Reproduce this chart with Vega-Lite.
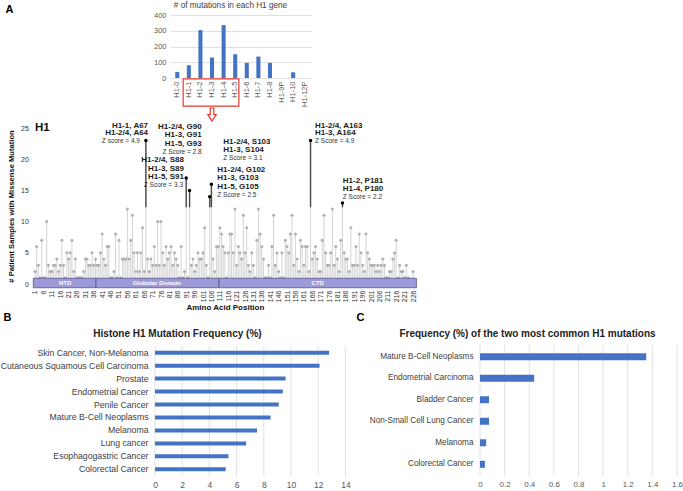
{
 "$schema": "https://vega.github.io/schema/vega-lite/v6.json",
 "width": 683, "height": 491,
 "autosize": {"type": "fit", "contains": "padding"},
 "padding": 0,
 "background": "white",
 "config": {"view": {"stroke": null}, "font": "Liberation Sans", "axis": {"labelFont": "Liberation Sans", "titleFont": "Liberation Sans"}, "text": {"font": "Liberation Sans"}},
 "datasets": {
  "genes": [{"gene":"H1-0","count":38},{"gene":"H1-1","count":81},{"gene":"H1-2","count":304},{"gene":"H1-3","count":130},{"gene":"H1-4","count":336},{"gene":"H1-5","count":151},{"gene":"H1-6","count":96},{"gene":"H1-7","count":136},{"gene":"H1-8","count":96},{"gene":"H1-9P","count":0},{"gene":"H1-10","count":36},{"gene":"H1-12P","count":0}],
  "freqB": [{"cancer":"Skin Cancer, Non-Melanoma","pct":12.8},{"cancer":"Cutaneous Squamous Cell Carcinoma","pct":12.1},{"cancer":"Prostate","pct":9.6},{"cancer":"Endometrial Cancer","pct":9.4},{"cancer":"Penile Cancer","pct":9.1},{"cancer":"Mature B-Cell Neoplasms","pct":8.5},{"cancer":"Melanoma","pct":7.5},{"cancer":"Lung cancer","pct":6.7},{"cancer":"Esophagogastric Cancer","pct":5.4},{"cancer":"Colorectal Cancer","pct":5.2}],
  "freqC": [{"cancer":"Mature B-Cell Neoplasms","pct":1.35},{"cancer":"Endometrial Carcinoma","pct":0.44},{"cancer":"Bladder Cancer","pct":0.073},{"cancer":"Non-Small Cell Lung Cancer","pct":0.073},{"cancer":"Melanoma","pct":0.05},{"cancer":"Colorectal Cancer","pct":0.04}],
  "gridB": [{"v":0},{"v":2},{"v":4},{"v":6},{"v":8},{"v":10},{"v":12},{"v":14}],
  "gridC": [{"v":0},{"v":0.2},{"v":0.4},{"v":0.6},{"v":0.8},{"v":1},{"v":1.2},{"v":1.4},{"v":1.6}],
  "domains": [{"name":"NTD","start":0,"end":37.3,"mid":18.9},{"name":"Globular Domain","start":37.3,"end":110.5,"mid":73.5},{"name":"CTD","start":110.5,"end":228,"mid":169.3}],
  "notesRB": [{"t":"H1-1, A67","pos":68.3,"n":25.4},{"t":"H1-2/4, A64","pos":68.3,"n":24.15},{"t":"H1-2/4, G90","pos":100.2,"n":25.1},{"t":"H1-3, G91","pos":100.2,"n":23.8},{"t":"H1-5, G93","pos":100.2,"n":22.4},{"t":"H1-2/4, S88","pos":89.7,"n":19.9},{"t":"H1-3, S89","pos":89.7,"n":18.5},{"t":"H1-5, S91","pos":89.7,"n":17.2}],
  "notesRZ": [{"t":"Z score = 4.9","pos":63.5,"n":22.9},{"t":"Z Score = 2.8","pos":100.2,"n":21.1},{"t":"Z Score = 3.3","pos":89.1,"n":15.9}],
  "notesLB": [{"t":"H1-2/4, S103","pos":113.1,"n":22.8},{"t":"H1-3, S104","pos":113.1,"n":21.5},{"t":"H1-2/4, G102","pos":109.5,"n":18.3},{"t":"H1-3, G103","pos":109.5,"n":16.95},{"t":"H1-5, G105","pos":109.5,"n":15.6},{"t":"H1-2/4, A163","pos":167.7,"n":25.4},{"t":"H1-3, A164","pos":167.7,"n":24.15},{"t":"H1-2, P181","pos":184.2,"n":16.55},{"t":"H1-4, P180","pos":184.2,"n":15.3}],
  "notesLZ": [{"t":"Z Score = 3.1","pos":113.1,"n":20.2},{"t":"Z Score = 2.5","pos":109.5,"n":14.3},{"t":"Z Score = 4.9","pos":167.7,"n":22.9},{"t":"Z Score = 2.2","pos":184.2,"n":14.0}],
  "lolli": [{"pos":1,"n":2},{"pos":2,"n":6},{"pos":3,"n":3},{"pos":4,"n":1},{"pos":5,"n":7},{"pos":6,"n":1},{"pos":7,"n":1},{"pos":8,"n":10},{"pos":9,"n":3},{"pos":10,"n":2},{"pos":11,"n":2},{"pos":12,"n":3},{"pos":13,"n":3},{"pos":14,"n":4},{"pos":15,"n":2},{"pos":16,"n":3},{"pos":17,"n":7},{"pos":18,"n":3},{"pos":19,"n":1},{"pos":20,"n":5},{"pos":21,"n":4},{"pos":22,"n":5},{"pos":23,"n":7},{"pos":24,"n":2},{"pos":25,"n":4},{"pos":26,"n":1},{"pos":27,"n":1},{"pos":28,"n":1},{"pos":29,"n":1},{"pos":30,"n":2},{"pos":31,"n":4},{"pos":32,"n":4},{"pos":33,"n":3},{"pos":34,"n":3},{"pos":35,"n":5},{"pos":36,"n":3},{"pos":37,"n":4},{"pos":38,"n":3},{"pos":39,"n":3},{"pos":40,"n":5},{"pos":41,"n":8},{"pos":42,"n":4},{"pos":43,"n":3},{"pos":44,"n":6},{"pos":45,"n":6},{"pos":46,"n":1},{"pos":47,"n":1},{"pos":48,"n":2},{"pos":49,"n":8},{"pos":50,"n":1},{"pos":51,"n":7},{"pos":52,"n":1},{"pos":53,"n":4},{"pos":54,"n":4},{"pos":55,"n":4},{"pos":56,"n":12},{"pos":57,"n":4},{"pos":58,"n":7},{"pos":59,"n":11},{"pos":60,"n":5},{"pos":61,"n":2},{"pos":62,"n":5},{"pos":63,"n":2},{"pos":64,"n":5},{"pos":65,"n":9},{"pos":66,"n":2},{"pos":67,"n":23},{"pos":68,"n":4},{"pos":69,"n":2},{"pos":70,"n":4},{"pos":71,"n":3},{"pos":72,"n":6},{"pos":73,"n":3},{"pos":74,"n":10},{"pos":75,"n":3},{"pos":76,"n":10},{"pos":77,"n":5},{"pos":78,"n":3},{"pos":79,"n":6},{"pos":80,"n":4},{"pos":81,"n":5},{"pos":82,"n":6},{"pos":83,"n":3},{"pos":84,"n":5},{"pos":85,"n":4},{"pos":86,"n":3},{"pos":87,"n":1},{"pos":88,"n":6},{"pos":89,"n":1},{"pos":90,"n":2},{"pos":91,"n":17},{"pos":92,"n":1},{"pos":93,"n":15},{"pos":94,"n":3},{"pos":95,"n":4},{"pos":96,"n":2},{"pos":97,"n":3},{"pos":98,"n":5},{"pos":99,"n":4},{"pos":100,"n":4},{"pos":101,"n":5},{"pos":102,"n":9},{"pos":103,"n":3},{"pos":104,"n":1},{"pos":105,"n":14},{"pos":106,"n":16},{"pos":107,"n":4},{"pos":108,"n":2},{"pos":109,"n":6},{"pos":110,"n":6},{"pos":111,"n":9},{"pos":112,"n":8},{"pos":113,"n":6},{"pos":114,"n":5},{"pos":115,"n":1},{"pos":116,"n":5},{"pos":117,"n":8},{"pos":118,"n":8},{"pos":119,"n":5},{"pos":120,"n":12},{"pos":121,"n":3},{"pos":122,"n":6},{"pos":123,"n":5},{"pos":124,"n":4},{"pos":125,"n":11},{"pos":126,"n":5},{"pos":127,"n":9},{"pos":128,"n":3},{"pos":129,"n":2},{"pos":130,"n":5},{"pos":131,"n":3},{"pos":132,"n":1},{"pos":133,"n":7},{"pos":134,"n":12},{"pos":135,"n":8},{"pos":136,"n":6},{"pos":137,"n":4},{"pos":138,"n":1},{"pos":139,"n":1},{"pos":140,"n":3},{"pos":141,"n":1},{"pos":142,"n":6},{"pos":143,"n":11},{"pos":144,"n":3},{"pos":145,"n":5},{"pos":146,"n":2},{"pos":147,"n":1},{"pos":148,"n":5},{"pos":149,"n":1},{"pos":150,"n":7},{"pos":151,"n":6},{"pos":152,"n":5},{"pos":153,"n":8},{"pos":154,"n":11},{"pos":155,"n":3},{"pos":156,"n":8},{"pos":157,"n":4},{"pos":158,"n":2},{"pos":159,"n":7},{"pos":160,"n":6},{"pos":161,"n":3},{"pos":162,"n":6},{"pos":163,"n":6},{"pos":164,"n":2},{"pos":165,"n":23},{"pos":166,"n":4},{"pos":167,"n":5},{"pos":168,"n":6},{"pos":169,"n":4},{"pos":170,"n":2},{"pos":171,"n":2},{"pos":172,"n":7},{"pos":173,"n":11},{"pos":174,"n":5},{"pos":175,"n":3},{"pos":176,"n":3},{"pos":177,"n":5},{"pos":178,"n":12},{"pos":179,"n":3},{"pos":180,"n":6},{"pos":181,"n":4},{"pos":182,"n":2},{"pos":183,"n":7},{"pos":184,"n":13},{"pos":185,"n":5},{"pos":186,"n":4},{"pos":187,"n":4},{"pos":188,"n":2},{"pos":189,"n":9},{"pos":190,"n":3},{"pos":191,"n":3},{"pos":192,"n":6},{"pos":193,"n":3},{"pos":194,"n":8},{"pos":195,"n":5},{"pos":196,"n":3},{"pos":197,"n":2},{"pos":198,"n":8},{"pos":199,"n":5},{"pos":200,"n":4},{"pos":201,"n":3},{"pos":202,"n":3},{"pos":203,"n":3},{"pos":204,"n":2},{"pos":205,"n":3},{"pos":206,"n":2},{"pos":207,"n":3},{"pos":208,"n":4},{"pos":209,"n":3},{"pos":210,"n":1},{"pos":211,"n":1},{"pos":212,"n":2},{"pos":213,"n":2},{"pos":214,"n":4},{"pos":215,"n":5},{"pos":216,"n":7},{"pos":217,"n":1},{"pos":218,"n":3},{"pos":219,"n":2},{"pos":220,"n":2},{"pos":221,"n":1},{"pos":222,"n":3},{"pos":223,"n":1},{"pos":226,"n":2}]
 },
 "resolve": {"scale": {"x": "independent", "y": "independent"}, "axis": {"x": "independent", "y": "independent"}},
 "layer": [
  {
   "resolve": {"axis": {"x": "independent", "y": "independent"}},
   "layer": [
    {"data": {"name": "genes"},
     "mark": {"type": "bar", "color": "#4472C4"},
     "encoding": {
      "x": {"field": "gene", "type": "nominal", "sort": null,
        "scale": {"range": [170, 312], "paddingInner": 0.65, "paddingOuter": 0.45},
        "axis": {"orient": "bottom", "offset": -413, "labelAngle": -90, "labelFontSize": 7.5, "labelColor": "#595959", "labelPadding": 3, "ticks": false, "domain": false, "title": "# of  mutations in each H1 gene", "titleFontSize": 8.2, "titleFontWeight": "normal", "titleColor": "#404040", "titleX": 230, "titleY": -73, "titleBaseline": "middle"}},
      "y": {"field": "count", "type": "quantitative",
        "scale": {"domain": [0, 400], "range": [78, 15], "nice": false},
        "axis": {"orient": "left", "offset": -170, "values": [0, 100, 200, 300, 400], "grid": true, "gridColor": "#d9d9d9", "gridWidth": 0.8, "domain": false, "ticks": false, "labelFontSize": 7.5, "labelColor": "#595959", "labelPadding": 4, "title": "A", "titleAngle": 0, "titleX": -165, "titleY": 9, "titleAlign": "left", "titleBaseline": "middle", "titleFontSize": 11, "titleFontWeight": "bold", "titleColor": "#000000"}}
     }},
    {"data": {"values": [{}]},
     "mark": {"type": "rect", "filled": false, "stroke": "#E8392E", "strokeWidth": 1.2},
     "encoding": {"x": {"datum": "H1-1", "bandPosition": -0.9, "axis": null}, "x2": {"datum": "H1-5", "bandPosition": 1.4}, "y": {"datum": -6, "axis": null}, "y2": {"datum": -178}}},
    {"data": {"values": [{}]},
     "mark": {"type": "point", "shape": "M-0.27,-1L0.27,-1L0.27,0L0.64,0L0,1L-0.64,0L-0.27,0Z", "filled": true, "fill": "white", "stroke": "#E8392E", "strokeWidth": 1.2, "size": 170, "opacity": 1},
     "encoding": {"x": {"datum": "H1-3", "axis": null}, "y": {"datum": -232, "axis": null}}}
   ]
  },
  {
   "resolve": {"axis": {"x": "independent", "y": "independent"}},
   "layer": [
    {"data": {"name": "lolli"},
     "mark": {"type": "rule", "color": "#d4d4d4", "strokeWidth": 1},
     "encoding": {
      "x": {"field": "pos", "type": "quantitative",
        "scale": {"domain": [0, 228], "range": [33.3, 416.4], "nice": false, "zero": false},
        "axis": {"orient": "bottom", "offset": -203, "values": [1,6,11,16,21,26,31,36,41,46,51,56,61,66,71,76,81,86,91,96,101,106,111,116,121,126,131,136,141,146,151,156,161,166,171,176,181,186,191,196,201,206,211,216,221,226], "labelAngle": -90, "labelAlign": "right", "labelBaseline": "middle", "labelFontSize": 7, "labelColor": "#333333", "labelPadding": 2, "labelOverlap": false, "labelFlush": false, "ticks": false, "domain": false, "grid": false, "title": "Amino Acid Position", "titleFontSize": 8, "titleFontWeight": "bold", "titlePadding": 2, "titleColor": "#111111"}},
      "y": {"field": "n", "type": "quantitative",
        "scale": {"domain": [0, 25], "range": [284, 128], "nice": false},
        "axis": {"orient": "left", "offset": -33.3, "values": [0, 5, 10, 15, 20, 25], "grid": false, "domain": false, "ticks": false, "labelFontSize": 7, "labelColor": "#333333", "labelPadding": 5, "title": "# Patient Samples with Missense Mutation", "titleFontSize": 7.6, "titleFontWeight": "bold", "titlePadding": 5, "titleColor": "#111111"}},
      "y2": {"datum": 0}
     }},
    {"data": {"name": "lolli"},
     "mark": {"type": "circle", "color": "#b0b0b0", "size": 9, "opacity": 1},
     "encoding": {"x": {"field": "pos", "type": "quantitative", "axis": null}, "y": {"field": "n", "type": "quantitative", "axis": null}}},
    {"data": {"name": "lolli"}, "transform": [{"filter": "datum.n >= 13"}],
     "mark": {"type": "rule", "color": "#4a4a4a", "strokeWidth": 1.4},
     "encoding": {"x": {"field": "pos", "type": "quantitative", "axis": null}, "y": {"field": "n", "type": "quantitative", "axis": null}, "y2": {"datum": 12.3}}},
    {"data": {"name": "lolli"}, "transform": [{"filter": "datum.n >= 13"}],
     "mark": {"type": "circle", "color": "#000000", "size": 12, "opacity": 1},
     "encoding": {"x": {"field": "pos", "type": "quantitative", "axis": null}, "y": {"field": "n", "type": "quantitative", "axis": null}}},
    {"data": {"name": "domains"},
     "mark": {"type": "rect", "fill": "#9c9ad8", "stroke": "#55558a", "strokeWidth": 0.8},
     "encoding": {"x": {"field": "start", "type": "quantitative", "axis": null}, "x2": {"field": "end"}, "y": {"datum": 0.92, "axis": null}, "y2": {"datum": -0.6}}},
    {"data": {"name": "domains"},
     "mark": {"type": "text", "color": "white", "fontSize": 6, "fontWeight": "bold", "baseline": "middle", "align": "center"},
     "encoding": {"x": {"field": "mid", "type": "quantitative", "axis": null}, "y": {"datum": 0.15, "axis": null}, "text": {"field": "name"}}},
    {"data": {"name": "notesRB"},
     "mark": {"type": "text", "align": "right", "baseline": "middle", "fontSize": 8, "fontWeight": "bold", "color": "#1a1a1a"},
     "encoding": {"x": {"field": "pos", "type": "quantitative", "axis": null}, "y": {"field": "n", "type": "quantitative", "axis": null}, "text": {"field": "t"}}},
    {"data": {"name": "notesRZ"},
     "mark": {"type": "text", "align": "right", "baseline": "middle", "fontSize": 6.5, "color": "#333333"},
     "encoding": {"x": {"field": "pos", "type": "quantitative", "axis": null}, "y": {"field": "n", "type": "quantitative", "axis": null}, "text": {"field": "t"}}},
    {"data": {"name": "notesLB"},
     "mark": {"type": "text", "align": "left", "baseline": "middle", "fontSize": 8, "fontWeight": "bold", "color": "#1a1a1a"},
     "encoding": {"x": {"field": "pos", "type": "quantitative", "axis": null}, "y": {"field": "n", "type": "quantitative", "axis": null}, "text": {"field": "t"}}},
    {"data": {"name": "notesLZ"},
     "mark": {"type": "text", "align": "left", "baseline": "middle", "fontSize": 6.5, "color": "#333333"},
     "encoding": {"x": {"field": "pos", "type": "quantitative", "axis": null}, "y": {"field": "n", "type": "quantitative", "axis": null}, "text": {"field": "t"}}},
    {"data": {"values": [{"label": "H1", "pos": 1, "n": 25}]},
     "mark": {"type": "text", "align": "left", "baseline": "middle", "fontSize": 11.5, "fontWeight": "bold", "color": "#111111"},
     "encoding": {"x": {"field": "pos", "type": "quantitative", "axis": null}, "y": {"field": "n", "type": "quantitative", "axis": null}, "text": {"field": "label"}}}
   ]
  },
  {
   "resolve": {"scale": {"y": "independent"}, "axis": {"x": "independent", "y": "independent"}},
   "layer": [
    {"data": {"name": "gridB"},
     "mark": {"type": "rule", "color": "#d9d9d9", "strokeWidth": 0.8},
     "encoding": {
      "x": {"field": "v", "type": "quantitative", "scale": {"domain": [0, 14], "range": [155, 345.4], "nice": false}, "axis": null},
      "y": {"datum": 0, "type": "quantitative", "scale": {"domain": [0, 1], "range": [346, 476], "nice": false}, "axis": null},
      "y2": {"datum": 1}}},
    {"data": {"name": "freqB"},
     "mark": {"type": "bar", "color": "#4472C4"},
     "encoding": {
      "y": {"field": "cancer", "type": "nominal", "sort": null,
        "scale": {"range": [346, 476], "paddingInner": 0.69, "paddingOuter": 0.36},
        "axis": {"orient": "left", "offset": -155, "ticks": false, "domain": false, "labelFontSize": 8.7, "labelColor": "#404040", "labelPadding": 7, "labelLimit": 300, "title": "B", "titleAngle": 0, "titleX": -152, "titleY": 317, "titleAlign": "left", "titleBaseline": "middle", "titleFontSize": 11, "titleFontWeight": "bold", "titleColor": "#000000"}},
      "x": {"field": "pct", "type": "quantitative",
        "scale": {"domain": [0, 14], "range": [155, 345.4], "nice": false},
        "axis": {"orient": "bottom", "offset": -15, "values": [0, 2, 4, 6, 8, 10, 12, 14], "grid": false, "ticks": false, "domain": false, "labelFlush": false, "labelFontSize": 8.5, "labelColor": "#595959", "labelPadding": 4, "title": "Histone H1 Mutation Frequency (%)", "titleX": 177, "titleY": -143, "titleBaseline": "middle", "titleFontSize": 10, "titleFontWeight": "bold", "titleColor": "#222222"}}
     }}
   ]
  },
  {
   "resolve": {"scale": {"y": "independent"}, "axis": {"x": "independent", "y": "independent"}},
   "layer": [
    {"data": {"name": "gridC"},
     "mark": {"type": "rule", "color": "#d9d9d9", "strokeWidth": 0.8},
     "encoding": {
      "x": {"field": "v", "type": "quantitative", "scale": {"domain": [0, 1.6], "range": [480, 677], "nice": false}, "axis": null},
      "y": {"datum": 0, "type": "quantitative", "scale": {"domain": [0, 1], "range": [345, 476], "nice": false}, "axis": null},
      "y2": {"datum": 1}}},
    {"data": {"name": "freqC"},
     "mark": {"type": "bar", "color": "#4472C4"},
     "encoding": {
      "y": {"field": "cancer", "type": "nominal", "sort": null,
        "scale": {"range": [345, 476], "paddingInner": 0.675, "paddingOuter": 0.38},
        "axis": {"orient": "left", "offset": -480, "ticks": false, "domain": false, "labelFontSize": 8.2, "labelColor": "#404040", "labelPadding": 7, "labelLimit": 300, "title": "C", "titleAngle": 0, "titleX": -124, "titleY": 317, "titleAlign": "left", "titleBaseline": "middle", "titleFontSize": 11, "titleFontWeight": "bold", "titleColor": "#000000"}},
      "x": {"field": "pct", "type": "quantitative",
        "scale": {"domain": [0, 1.6], "range": [480, 677], "nice": false},
        "axis": {"orient": "bottom", "offset": -15, "values": [0, 0.2, 0.4, 0.6, 0.8, 1, 1.2, 1.4, 1.6], "format": "~g", "grid": false, "ticks": false, "domain": false, "labelFlush": false, "labelFontSize": 8, "labelColor": "#595959", "labelPadding": 4, "title": "Frequency (%) of the two most common H1 mutations", "titleX": 527, "titleY": -143, "titleBaseline": "middle", "titleFontSize": 10, "titleFontWeight": "bold", "titleColor": "#222222"}}
     }}
   ]
  }
 ]
}
